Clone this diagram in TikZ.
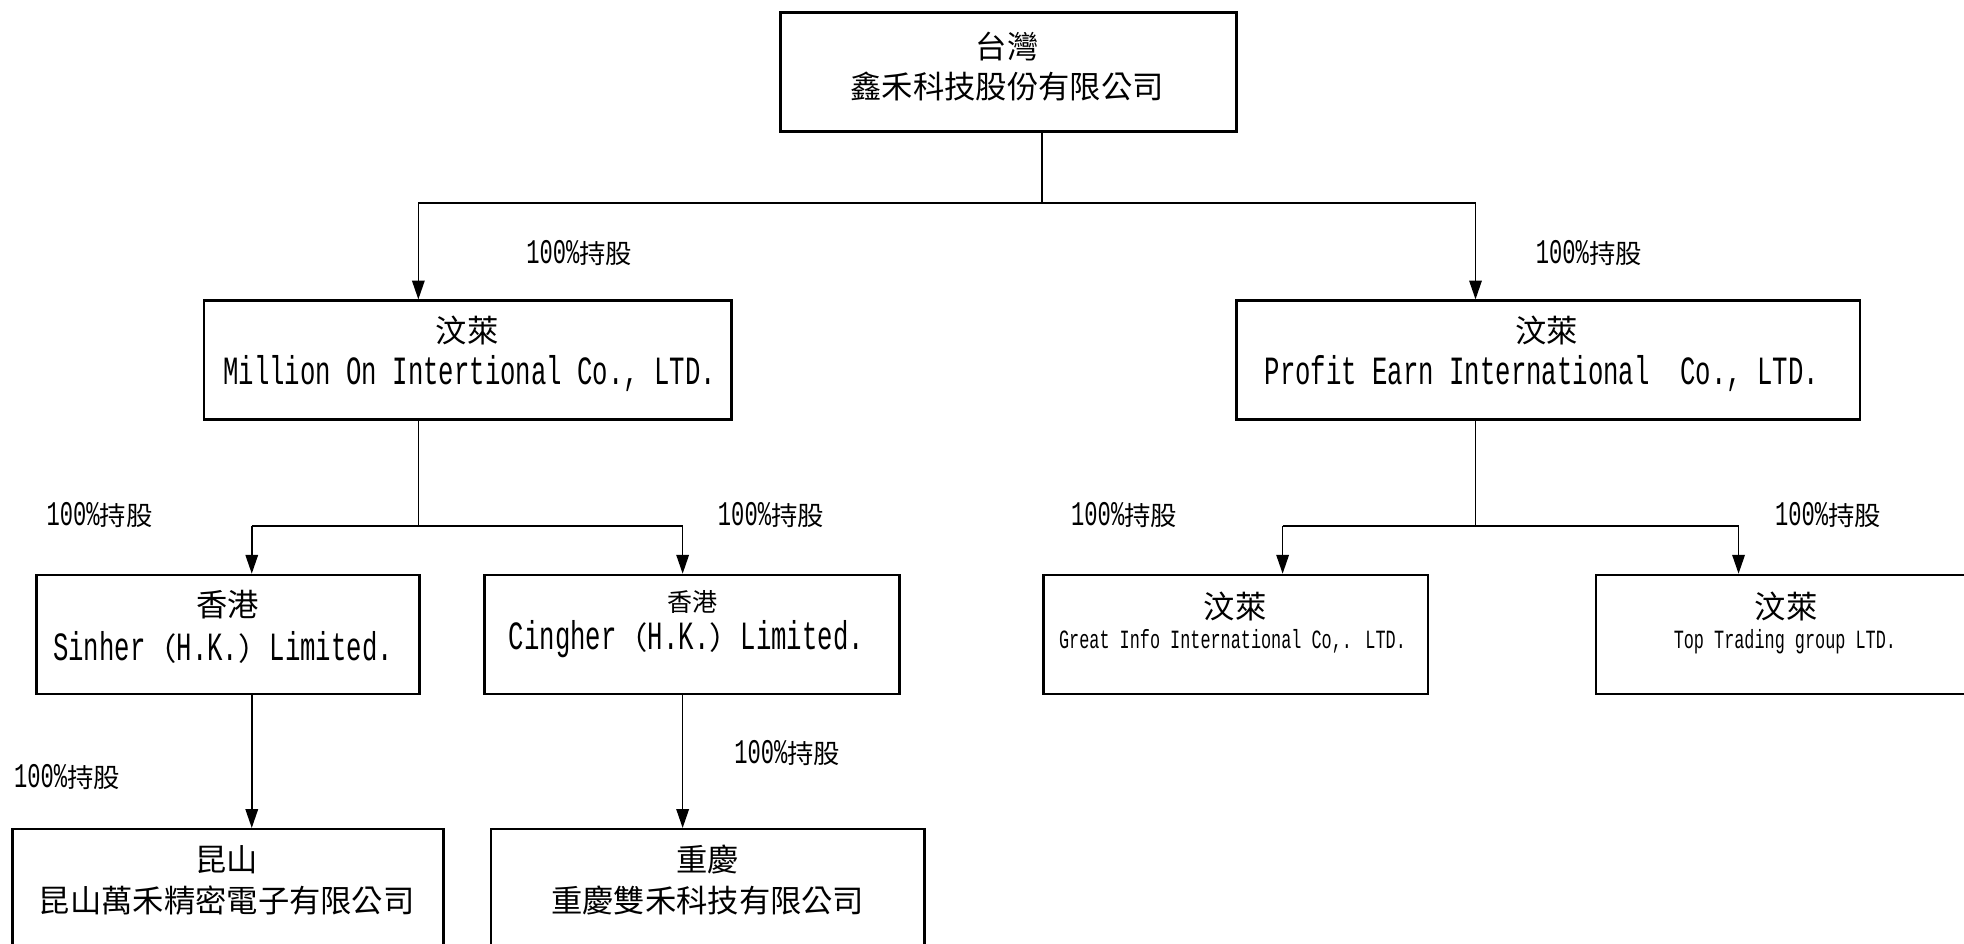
\documentclass[tikz,border=0pt]{standalone}
\usepackage{fontspec}
\setmainfont{Liberation Mono}[FakeStretch=0.64]
\newfontfamily\cjk{Noto Sans CJK TC}
\usetikzlibrary{arrows.meta}
\newcommand\fsz[1]{\fontsize{#1}{#1}\selectfont}
\tikzset{
  orgbox/.style={draw, line width=2pt, inner sep=0pt, anchor=north west, minimum height=95pt},
  ln/.style={inner sep=0pt, anchor=center},
  pct/.style={inner sep=0pt, anchor=west},
  conn/.style={line width=1.2pt},
  arr/.style={line width=1.2pt, -{Triangle[length=15pt,width=10pt]}},
}
\newcommand\cj[2]{{\cjk\fsz{#1}#2}}
\newcommand\lt[2]{{\fsz{#1}#2}}
\newcommand\hold{\lt{27.6}{100\%}\cj{21}{持股}}
\begin{document}
\begin{tikzpicture}[x=1pt,y=-1pt]
\clip (0,0) rectangle (1568,753);
\fill[white] (0,0) rectangle (1568,753);
% boxes
\node[orgbox, minimum width=364pt] (top) at (622,9) {};
\node[orgbox, minimum width=421pt] (mil) at (162,239) {};
\node[orgbox, minimum width=498pt] (pro) at (986,239) {};
\node[orgbox, minimum width=306pt] (sin) at (28,458) {};
\node[orgbox, minimum width=331pt] (cin) at (386,458) {};
\node[orgbox, minimum width=307pt] (gre) at (832,458) {};
\node[orgbox, minimum width=304pt] (tpt) at (1273,458) {};
\node[orgbox, minimum width=344pt] (kun) at (9,661) {};
\node[orgbox, minimum width=346pt] (chq) at (391,661) {};
% texts
\node[ln] (topa) at (804,37) {\cj{25}{台灣}};
\node[ln] (topb) at (804,69) {\cj{25}{鑫禾科技股份有限公司}};
\node[ln] (mila) at (373,264) {\cj{25}{汶萊}};
\node[ln] (milb) at (375,298) {\lt{32}{Million On Intertional Co., LTD.}};
\node[ln] (proa) at (1235,264) {\cj{25}{汶萊}};
\node[ln] (prob) at (1231,298) {\lt{32}{Profit Earn International\ \ Co., LTD.}};
\node[ln] (sina) at (182,483) {\cj{25}{香港}};
\node[ln] (sinb) at (178,517) {\lt{32}{Sinher\cj{25}{（}H.K.\cj{25}{）}Limited.}};
\node[ln] (cina) at (553,481) {\cj{20}{香港}};
\node[ln] (cinb) at (548,510) {\lt{32}{Cingher\cj{25}{（}H.K.\cj{25}{）}Limited.}};
\node[ln] (grea) at (986,484) {\cj{25}{汶萊}};
\node[ln] (greb) at (984,512) {\lt{21}{Great Info International Co,. LTD.}};
\node[ln] (tpta) at (1426,484) {\cj{25}{汶萊}};
\node[ln] (tptb) at (1425,512) {\lt{21}{Top Trading group LTD.}};
\node[ln] (kuna) at (181,686) {\cj{25}{昆山}};
\node[ln] (kunb) at (181,719) {\cj{25}{昆山萬禾精密電子有限公司}};
\node[ln] (chqa) at (565,686) {\cj{25}{重慶}};
\node[ln] (chqb) at (565,719) {\cj{25}{重慶雙禾科技有限公司}};
% percentage labels
\node[pct] (p1) at (420,202) {\hold};
\node[pct] (p2) at (1226,202) {\hold};
\node[pct] (p3) at (37,411) {\hold};
\node[pct] (p4) at (573,411) {\hold};
\node[pct] (p5) at (855,411) {\hold};
\node[pct] (p6) at (1417,411) {\hold};
\node[pct] (p7) at (11,620) {\hold};
\node[pct] (p8) at (586,601) {\hold};
% junctions
\coordinate (ja) at (832,162);
\coordinate (ja1) at (334,162);
\coordinate (ja2) at (1178,162);
\coordinate (jb) at (334,420);
\coordinate (jb1) at (201,420);
\coordinate (jb2) at (545,420);
\coordinate (jc) at (1178,420);
\coordinate (jc1) at (1024,420);
\coordinate (jc2) at (1388,420);
% connectors
\draw[conn] (top.south -| ja) -- (ja);
\draw[conn] (ja1) -- (ja2);
\draw[arr] (ja1) -- (ja1 |- mil.north);
\draw[arr] (ja2) -- (ja2 |- pro.north);
\draw[conn] (mil.south -| jb) -- (jb);
\draw[conn] (jb1) -- (jb2);
\draw[arr] (jb1) -- (jb1 |- sin.north);
\draw[arr] (jb2) -- (jb2 |- cin.north);
\draw[conn] (pro.south -| jc) -- (jc);
\draw[conn] (jc1) -- (jc2);
\draw[arr] (jc1) -- (jc1 |- gre.north);
\draw[arr] (jc2) -- (jc2 |- tpt.north);
\draw[arr] (sin.south -| jb1) -- (jb1 |- kun.north);
\draw[arr] (cin.south -| jb2) -- (jb2 |- chq.north);
\end{tikzpicture}
\end{document}
